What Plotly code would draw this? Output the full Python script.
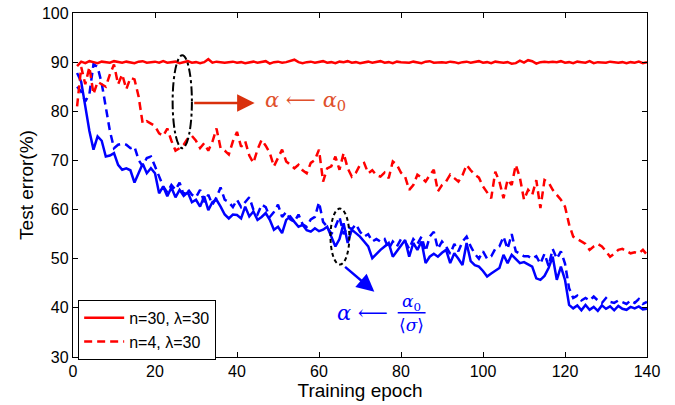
import plotly.graph_objects as go

epochs = list(range(1, 141))

red_n30 = [
    89.2, 90.1, 89.8, 90.2, 90.0, 89.8, 90.1, 90.0, 89.9, 90.2,
    90.0, 89.9, 90.1, 90.0, 89.8, 90.1, 90.2, 89.9, 90.0, 90.1,
    89.9, 90.2, 89.9, 90.0, 90.1, 89.8, 90.0, 90.2, 89.9, 90.0,
    89.8, 90.0, 90.6, 89.9, 90.1, 90.0, 89.9, 90.0, 90.1, 89.9,
    90.0, 89.8, 90.0, 90.1, 89.9, 90.0, 90.2, 89.7, 90.0, 90.1,
    89.9, 90.0, 90.3, 90.5, 90.0, 89.8, 90.0, 90.1, 89.9, 90.0,
    90.2, 89.9, 90.0, 89.8, 90.1, 90.0, 90.2, 89.9, 90.0, 89.8,
    90.0, 90.1, 89.9, 90.0, 90.2, 89.9, 90.0, 89.8, 90.1, 90.0,
    90.0, 89.9, 90.1, 90.0, 89.8, 90.1, 90.2, 89.9, 90.0, 90.0,
    89.9, 90.1, 90.0, 89.8, 90.0, 90.1, 89.9, 90.0, 90.2, 89.9,
    90.0, 89.8, 90.1, 90.0, 89.9, 90.0, 89.7, 89.8, 90.3, 89.9,
    90.4, 90.2, 89.7, 90.0, 90.1, 90.0, 90.1, 90.0, 90.2, 89.9,
    90.0, 89.8, 90.1, 90.0, 89.9, 90.2, 89.8, 90.0, 90.0, 89.9,
    90.1, 90.0, 89.9, 90.0, 89.8, 90.0, 89.9, 90.1, 89.8, 90.0,
]

red_n4 = [
    81.0, 89.0, 85.5, 89.0, 83.5, 86.0, 85.5, 85.0, 87.5, 89.5,
    85.5, 87.5, 84.5, 86.8, 86.5, 83.0, 77.5, 78.0, 77.5, 77.0,
    75.5, 75.0, 76.5, 74.0, 72.0, 72.5, 73.2, 74.5, 75.0, 74.0,
    72.5, 73.5, 72.0, 73.8, 76.5, 72.5, 72.0, 71.2, 73.9, 75.8,
    72.8, 73.9, 71.0, 69.5, 72.2, 74.2, 73.0, 71.5, 68.8, 70.5,
    72.2, 69.8, 69.0, 68.4, 69.1, 68.0, 67.4, 69.5, 70.1, 72.2,
    65.7, 68.4, 68.8, 70.8, 68.1, 71.5, 68.4, 66.7, 67.5, 69.1,
    69.5, 67.4, 68.0, 67.0, 66.7, 67.5, 66.4, 69.8, 69.1, 67.5,
    66.7, 64.0, 65.0, 67.1, 66.5, 65.7, 67.0, 68.1, 63.7, 65.0,
    65.7, 67.1, 66.4, 65.7, 67.0, 69.1, 68.0, 67.1, 66.5, 64.7,
    63.5, 62.3, 67.7, 65.7, 62.3, 66.1, 65.0, 69.1, 66.5, 62.0,
    64.0, 63.0, 66.0, 60.3, 66.0, 65.5, 64.0, 63.0, 62.0, 60.6,
    57.0, 54.5, 54.0, 53.5, 53.0, 51.8, 52.5, 53.0, 52.5, 51.5,
    50.4, 51.0, 51.8, 52.0, 51.5, 51.1, 51.3, 51.1, 51.8, 50.8,
]

blue_n30 = [
    87.8, 86.0, 81.0, 76.0, 72.2, 74.9, 74.0, 70.8, 71.0, 71.5,
    69.1, 68.1, 68.4, 68.0, 65.5, 67.4, 69.3, 67.4, 68.4, 67.4,
    63.3, 64.7, 62.7, 64.5, 62.5, 64.0, 62.8, 63.5, 61.5, 62.0,
    60.6, 62.7, 59.9, 61.5, 62.0, 60.6, 59.0, 58.2, 59.0, 58.9,
    58.2, 60.6, 58.6, 59.6, 57.9, 58.5, 59.3, 57.9, 55.9, 56.5,
    55.2, 57.9, 58.6, 57.5, 56.5, 56.9, 55.8, 55.5, 56.2, 55.6,
    55.9, 56.5, 54.5, 52.5, 54.0, 57.2, 53.2, 55.9, 55.2, 54.5,
    53.5, 52.5, 50.1, 51.0, 51.8, 52.5, 53.2, 50.4, 51.5, 52.5,
    53.8, 50.4, 53.2, 51.8, 53.5, 49.1, 50.4, 51.0, 50.4, 51.2,
    51.8, 49.1, 51.1, 50.0, 48.7, 53.2, 49.5, 48.7, 48.4, 47.5,
    46.4, 47.0, 47.5, 48.1, 50.8, 49.1, 50.8, 50.0, 49.1, 49.3,
    48.8, 48.4, 46.0, 45.7, 46.5, 48.1, 50.4, 45.7, 48.4, 45.7,
    40.6, 39.9, 40.5, 39.5, 40.6, 39.6, 40.2, 39.4, 40.5, 39.8,
    40.3, 39.5, 40.4, 39.8, 39.6, 40.2, 39.9, 40.3, 39.7, 39.8,
]

blue_n4 = [
    85.0, 84.0, 82.0, 83.5, 89.6, 89.0, 85.7, 81.0, 76.0, 72.5,
    73.2, 73.4, 73.2, 72.5, 72.8, 70.1, 68.8, 70.5, 70.8, 68.8,
    66.7, 64.7, 63.5, 65.0, 64.0, 65.5, 63.0, 64.2, 63.0, 62.5,
    64.0, 61.5, 63.0, 61.0, 62.5, 64.5, 62.0, 61.5, 60.5, 62.0,
    60.5, 61.5, 62.5, 60.0, 59.0, 61.0, 60.5, 58.5, 59.5, 61.0,
    58.5, 59.5, 58.0, 57.5, 59.0, 57.0, 56.5, 58.0, 58.5, 61.5,
    57.5, 56.5, 55.0, 56.5, 58.5, 55.0, 56.5, 56.0, 57.0, 55.5,
    54.5, 55.0, 53.5, 54.0, 53.5, 54.0, 52.0, 53.5, 52.5, 54.0,
    53.5, 52.0, 54.0, 53.0, 54.5, 51.5, 54.5, 55.5, 52.0, 53.5,
    52.5, 51.0, 53.0, 51.5, 53.5, 54.5, 52.5, 51.0, 50.0, 51.5,
    50.0, 50.5, 52.0, 52.5, 54.5, 52.0, 55.0, 51.5, 51.0, 50.5,
    50.5, 50.0, 50.5, 49.0, 51.0, 48.5, 52.0, 50.0, 51.5, 49.0,
    44.0, 42.0, 42.5, 41.5, 42.0, 41.5, 42.3, 41.5, 41.0, 42.0,
    41.2, 41.0, 41.5, 41.2, 40.8, 41.5, 41.0, 41.8, 40.8, 41.2,
]

x_ticks = [0, 20, 40, 60, 80, 100, 120, 140]
y_ticks = [30, 40, 50, 60, 70, 80, 90, 100]

RED = "#ff0000"
BLUE = "#0000ff"
DASH = "8px,5px"
FONT = "Liberation Sans, Arial, sans-serif"
SERIF = "DejaVu Serif, Liberation Serif, serif"

fig = go.Figure()
fig.add_trace(go.Scatter(x=epochs, y=blue_n4, mode="lines", showlegend=False,
                         line=dict(color=BLUE, width=2.5, dash=DASH)))
fig.add_trace(go.Scatter(x=epochs, y=blue_n30, mode="lines", showlegend=False,
                         line=dict(color=BLUE, width=2.5)))
fig.add_trace(go.Scatter(x=epochs, y=red_n4, mode="lines", showlegend=False,
                         line=dict(color=RED, width=2.5, dash=DASH)))
fig.add_trace(go.Scatter(x=epochs, y=red_n30, mode="lines", name="n=30, λ=30",
                         line=dict(color=RED, width=2.5)))
fig.add_trace(go.Scatter(x=[None], y=[None], mode="lines", name="n=4, λ=30",
                         line=dict(color=RED, width=2.5, dash=DASH)))

axis_common = dict(
    showline=True, linecolor="black", linewidth=1.3, mirror="ticks",
    ticks="inside", ticklen=5, tickcolor="black", showgrid=False, zeroline=False,
    automargin=False, ticklabeloverflow="allow",
    tickfont=dict(family=FONT, size=16, color="black"),
)
fig.update_xaxes(range=[0, 140], tickvals=x_ticks,
                 title=dict(text="Training epoch", font=dict(family=FONT, size=19, color="black"), standoff=4),
                 **axis_common)
fig.update_yaxes(range=[30, 100], tickvals=y_ticks,
                 title=dict(text="Test error(%)", font=dict(family=FONT, size=19, color="black"), standoff=3),
                 **axis_common)

# ellipses
fig.add_shape(type="circle", xref="x", yref="y", x0=24.3, x1=29.0, y0=72.5, y1=91.4,
              line=dict(color="black", width=2, dash="dashdot"))
fig.add_shape(type="circle", xref="x", yref="y", x0=62.8, x1=67.4, y0=48.8, y1=60.2,
              line=dict(color="black", width=2, dash="4px,3px"))

# arrows
fig.add_annotation(x=44.3, y=81.7, ax=29.2, ay=81.7, xref="x", yref="y", axref="x", ayref="y",
                   showarrow=True, arrowhead=2, arrowsize=1.4, arrowwidth=2.5,
                   arrowcolor="#d9300c", text="")
fig.add_annotation(x=73.5, y=43.3, ax=66.0, ay=48.6, xref="x", yref="y", axref="x", ayref="y",
                   showarrow=True, arrowhead=2, arrowsize=1.4, arrowwidth=2.5,
                   arrowcolor=BLUE, text="")

# labels
fig.add_annotation(x=56.8, y=82.0, xref="x", yref="y", showarrow=False,
                   text="<i>α</i> ⟵ <i>α</i><sub>0</sub>",
                   font=dict(family=SERIF, size=21, color="#e0502c"))
fig.add_annotation(x=70.6, y=38.9, xref="x", yref="y", showarrow=False,
                   text="<i>α</i> ⟵", font=dict(family=SERIF, size=21, color=BLUE))
fig.add_annotation(x=82.6, y=41.0, xref="x", yref="y", showarrow=False,
                   text="<i>α</i><sub>0</sub>", font=dict(family=SERIF, size=17, color=BLUE))
fig.add_annotation(x=82.6, y=36.5, xref="x", yref="y", showarrow=False,
                   text="⟨<i>σ</i>⟩", font=dict(family=SERIF, size=17, color=BLUE))
fig.add_shape(type="line", xref="x", yref="y", x0=79.2, x1=86.0, y0=39.0, y1=39.0,
              line=dict(color=BLUE, width=1.5))

fig.update_layout(
    width=675, height=405,
    margin=dict(l=73, r=28, t=13, b=48),
    paper_bgcolor="white", plot_bgcolor="white",
    legend=dict(x=0.009, y=-0.008, xanchor="left", yanchor="bottom",
                bgcolor="white", bordercolor="black", borderwidth=1,
                font=dict(family=FONT, size=16, color="black"),
                tracegroupgap=0, itemwidth=40),
)

fig.write_html("out.html", config={"displayModeBar": False},
               post_script="document.body.style.margin='0';")
